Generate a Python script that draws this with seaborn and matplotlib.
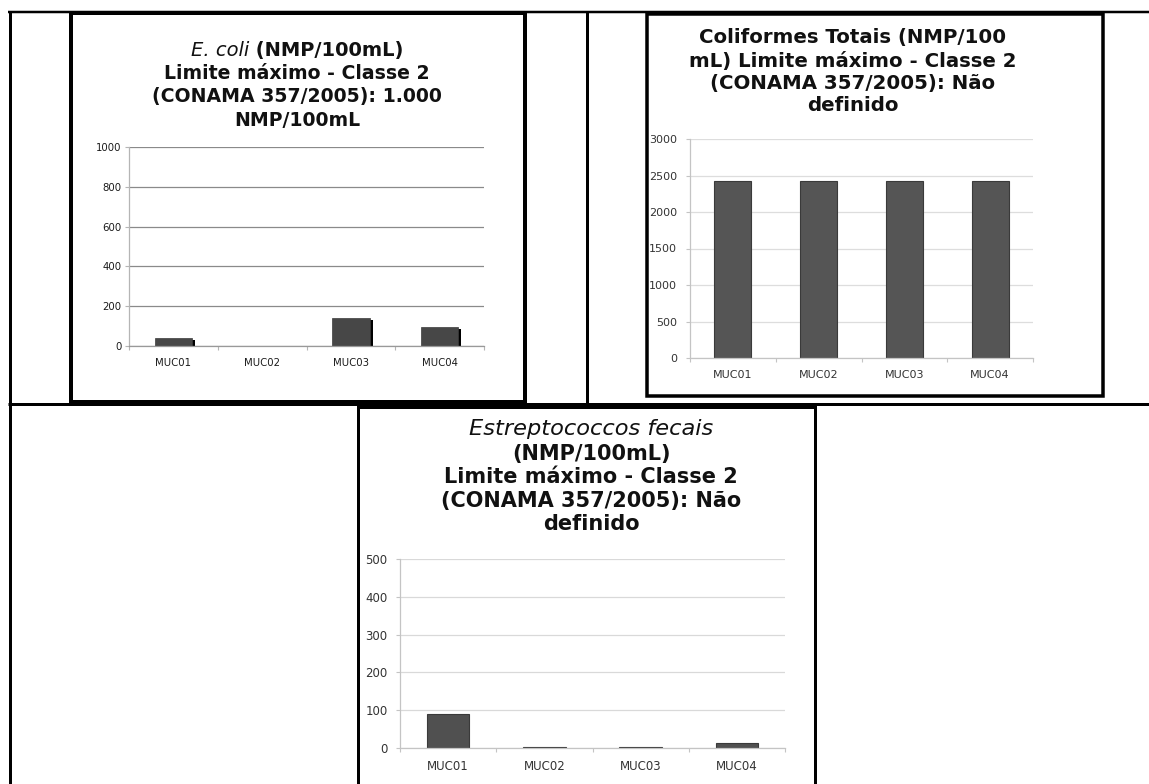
import numpy as np
import pandas as pd
import matplotlib
matplotlib.use("Agg")
import matplotlib.pyplot as plt
import matplotlib.patheffects as pe
from matplotlib.lines import Line2D
from matplotlib.patches import Rectangle
import seaborn as sns

# Sampling sites and bacteriological results (NMP/100mL)
sites = ["MUC01", "MUC02", "MUC03", "MUC04"]
ecoli = [40, 0, 140, 95]
coliformes = [2420, 2420, 2420, 2420]
estreptococos = [90, 3, 3, 12]

ecoli_ticks = [0, 200, 400, 600, 800, 1000]
coliformes_ticks = [0, 500, 1000, 1500, 2000, 2500, 3000]
estreptococos_ticks = [0, 100, 200, 300, 400, 500]

W, H = 1149, 784
sns.set_theme(style="white")
plt.rcParams["font.family"] = ["DejaVu Sans"]

fig = plt.figure(figsize=(W / 100, H / 100), dpi=100)
fig.patch.set_facecolor("white")


def fx(x):
    return x / W


def fy(y):
    return 1 - y / H


def axes_rect(left, top, right, bottom):
    return [fx(left), fy(bottom), (right - left) / W, (bottom - top) / H]


def seg(x0, y0, x1, y1, px):
    fig.add_artist(Line2D([fx(x0), fx(x1)], [fy(y0), fy(y1)],
                          transform=fig.transFigure, color="black",
                          lw=px * 0.72, solid_capstyle="butt"))


def box(left, top, right, bottom, px):
    fig.add_artist(Rectangle((fx(left), fy(bottom)), (right - left) / W,
                             (bottom - top) / H, transform=fig.transFigure,
                             fill=False, edgecolor="black", lw=px * 0.72,
                             joinstyle="miter"))


# Table rules
seg(8, 12, 1149, 12, 2.5)
seg(9.5, 11, 9.5, 790, 3)
seg(586.5, 11, 586.5, 403, 3)
seg(8, 403.5, 1149, 403.5, 3)

# Chart frames
box(70.5, 13.5, 524.5, 402.5, 4)
box(646.5, 13.5, 1102.5, 395.5, 3.5)
box(358, 406.5, 814.5, 800, 3)


def style_axes(ax, ticks, grid_color, spine_color, fs, xpad, ypad, label_color):
    ax.set_xlim(-0.5, 3.5)
    ax.set_ylim(ticks[0], ticks[-1])
    ax.set_yticks(ticks)
    ax.set_xticks(range(len(sites)))
    ax.set_xticklabels(sites)
    ax.set_xticks(np.arange(-0.5, len(sites), 1.0), minor=True)
    ax.tick_params(axis="x", which="major", length=0, pad=xpad,
                   labelsize=fs, labelcolor=label_color)
    ax.tick_params(axis="x", which="minor", length=3, width=0.8,
                   color=spine_color, direction="out", bottom=True)
    ax.tick_params(axis="y", length=3, width=0.8, color=spine_color,
                   direction="out", left=True, pad=ypad, labelsize=fs,
                   labelcolor=label_color)
    ax.yaxis.grid(True, color=grid_color, lw=0.9)
    ax.xaxis.grid(False)
    ax.set_axisbelow(True)
    for s in ["top", "right"]:
        ax.spines[s].set_visible(False)
    ax.spines["left"].set_color(spine_color)
    ax.spines["bottom"].set_color(spine_color)
    ax.spines["left"].set_linewidth(0.9)
    ax.spines["bottom"].set_linewidth(0.9)
    ax.set_xlabel("")
    ax.set_ylabel("")
    ax.patch.set_alpha(0)


# --- E. coli ---
ax1 = fig.add_axes(axes_rect(129, 147, 484, 346))
sns.barplot(x=sites, y=ecoli, ax=ax1, color="#474747", saturation=1,
            width=0.42, edgecolor="#3c3c3c", linewidth=0.5)
for p in ax1.patches:
    p.set_path_effects([pe.SimplePatchShadow(offset=(2.2, -1.5),
                                             shadow_rgbFace="black", alpha=1),
                        pe.Normal()])
style_axes(ax1, ecoli_ticks, "#8a8a8a", "#b5b5b5", 7.3, 8.5, 2.5, "#1a1a1a")
ax1.spines["bottom"].set_color("#999999")

# --- Coliformes totais ---
ax2 = fig.add_axes(axes_rect(690, 139, 1033, 358))
sns.barplot(x=sites, y=coliformes, ax=ax2, color="#555555", saturation=1,
            width=0.43, edgecolor="#3a3a3a", linewidth=0.8)
style_axes(ax2, coliformes_ticks, "#dddddd", "#c4c4c4", 8, 9, 6.5, "#333333")

# --- Estreptococos fecais ---
ax3 = fig.add_axes(axes_rect(400, 559, 785, 748))
sns.barplot(x=sites, y=estreptococos, ax=ax3, color="#505050", saturation=1,
            width=0.44, edgecolor="#3a3a3a", linewidth=0.8)
style_axes(ax3, estreptococos_ticks, "#d9d9d9", "#c4c4c4", 8.5, 9, 6, "#333333")

# --- Titles ---
renderer = fig.canvas.get_renderer()


def mixed_line(cx, baseline, parts):
    """Centre a line built from (text, style, weight, size) pieces."""
    texts = []
    for s, style, weight, size in parts:
        t = fig.text(0, fy(baseline), s, fontsize=size, style=style,
                     weight=weight, ha="left", va="baseline", color="#111111")
        texts.append(t)
    widths = [t.get_window_extent(renderer).width for t in texts]
    x = cx - sum(widths) / 2
    for t, w in zip(texts, widths):
        t.set_x(fx(x))
        x += w


def title_lines(cx, baselines, lines, size):
    for b, line in zip(baselines, lines):
        if isinstance(line, list):
            mixed_line(cx, b, line)
        else:
            fig.text(fx(cx), fy(b), line, fontsize=size, weight="bold",
                     ha="center", va="baseline", color="#111111")


title_lines(297, [56, 79, 102, 125.5],
            [[("E. coli", "italic", "normal", 14),
              (" (NMP/100mL)", "normal", "bold", 14)],
             "Limite máximo - Classe 2",
             "(CONAMA 357/2005): 1.000",
             "NMP/100mL"], 13.6)

title_lines(853, [43.5, 66.5, 89.5, 111],
            ["Coliformes Totais (NMP/100",
             "mL) Limite máximo - Classe 2",
             "(CONAMA 357/2005): Não",
             "definido"], 14.2)

title_lines(591, [435, 460, 483, 507, 530],
            [[("Estreptococcos fecais", "italic", "normal", 16.2)],
             "(NMP/100mL)",
             "Limite máximo - Classe 2",
             "(CONAMA 357/2005): Não",
             "definido"], 15.0)

fig.savefig("out.png", dpi=100, facecolor="white")
